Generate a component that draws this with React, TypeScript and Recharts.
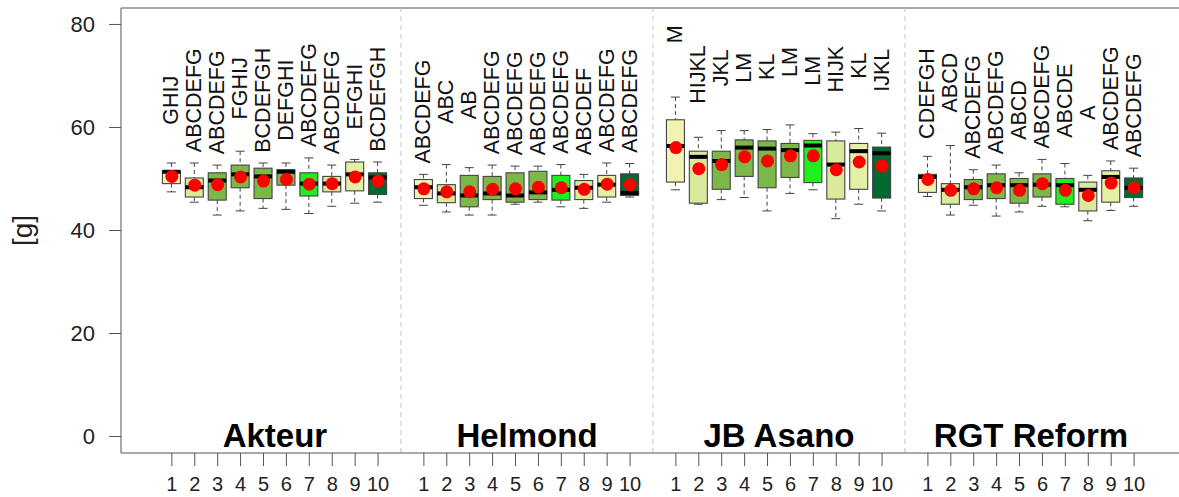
import { Bar, ComposedChart, ReferenceLine, Scatter, XAxis, YAxis } from "recharts";

const GROUPS: string[] = ["Akteur", "Helmond", "JB Asano", "RGT Reform"];
const TICK_LABELS: string[] = ["1", "2", "3", "4", "5", "6", "7", "8", "9", "10"];
const Y_TICKS: number[] = [0, 20, 40, 60, 80];

// box statistics, 10 per group, groups in GROUPS order
const WHISKER_LOW: number[] = [
  47.5, 45.5, 43.0, 43.8, 44.3, 44.1, 43.3, 44.7, 45.3, 45.5,
  44.9, 43.6, 43.0, 43.0, 45.1, 45.5, 44.6, 44.3, 45.5, 46.5,
  47.9, 45.1, 46.0, 46.4, 43.8, 47.2, 47.9, 42.3, 45.1, 43.8,
  46.6, 43.0, 44.9, 42.8, 43.6, 44.7, 44.6, 41.9, 43.9, 44.7,
];
const Q1: number[] = [
  49.1, 46.5, 45.9, 48.3, 46.2, 48.8, 46.7, 47.5, 47.7, 47.0,
  46.2, 45.4, 44.6, 46.0, 45.5, 46.0, 45.9, 46.0, 46.5, 46.8,
  49.4, 45.3, 48.0, 50.5, 48.3, 50.3, 49.3, 46.1, 48.0, 46.3,
  47.4, 45.1, 46.0, 46.2, 45.3, 46.5, 45.1, 43.8, 45.5, 46.4,
];
const MEDIAN: number[] = [
  51.4, 48.4, 49.7, 50.9, 50.5, 51.4, 49.1, 49.1, 50.9, 50.3,
  48.4, 47.2, 46.8, 47.2, 46.8, 47.4, 47.9, 48.3, 48.9, 47.3,
  56.4, 54.3, 53.5, 56.1, 55.9, 55.6, 56.5, 52.8, 55.4, 55.0,
  50.4, 47.9, 48.4, 48.8, 48.8, 48.9, 48.8, 47.9, 50.4, 48.3,
];
const Q3: number[] = [
  51.6, 50.2, 51.2, 52.7, 52.1, 51.8, 51.2, 50.5, 53.3, 51.2,
  49.9, 48.9, 50.7, 50.5, 51.2, 51.5, 50.7, 49.7, 50.7, 51.0,
  61.5, 55.4, 55.4, 57.6, 57.4, 56.9, 57.5, 57.4, 56.9, 56.2,
  50.9, 49.1, 49.9, 51.0, 50.1, 51.0, 50.1, 49.4, 51.6, 50.2,
];
const WHISKER_HIGH: number[] = [
  53.1, 53.1, 52.7, 55.4, 53.1, 53.1, 54.1, 52.7, 53.8, 53.3,
  50.9, 52.8, 52.2, 52.7, 52.5, 52.5, 52.8, 50.9, 53.1, 53.0,
  65.9, 58.1, 59.4, 59.4, 59.6, 60.5, 58.8, 59.1, 59.8, 58.9,
  54.4, 56.5, 51.8, 52.7, 51.2, 53.8, 53.0, 50.7, 53.5, 52.1,
];
const MEAN: number[] = [
  50.5, 48.8, 48.9, 50.4, 49.6, 49.9, 49.0, 49.1, 50.4, 49.6,
  48.1, 47.5, 47.5, 48.0, 48.1, 48.4, 48.3, 48.0, 49.0, 48.9,
  56.1, 52.0, 52.8, 54.3, 53.5, 54.5, 54.5, 51.8, 53.3, 52.5,
  49.9, 47.8, 48.1, 48.3, 47.8, 49.1, 47.8, 46.8, 49.2, 48.3,
];
const LETTERS: string[] = [
  "GHIJ", "ABCDEFG", "ABCDEFG", "FGHIJ", "BCDEFGH", "DEFGHI", "ABCDEFG", "ABCDEFG", "EFGHI", "BCDEFGH",
  "ABCDEFG", "ABC", "AB", "ABCDEFG", "ABCDEFG", "ABCDEFG", "ABCDEFG", "ABCDEF", "ABCDEFG", "ABCDEFG",
  "M", "HIJKL", "JKL", "LM", "KL", "LM", "LM", "HIJK", "KL", "IJKL",
  "CDEFGH", "ABCD", "ABCDEFG", "ABCDEFG", "ABCD", "ABCDEFG", "ABCDE", "A", "ABCDEFG", "ABCDEFG",
];

const BOX_COLORS: string[] = [
  "#F2F3B3", "#DAEA9C", "#7BB847", "#7BB847", "#7BB847",
  "#7BB847", "#1EF01E", "#DAEA9C", "#E6EFA6", "#00692F",
];

const GROUP_STEP = 11; // 10 boxes + one empty slot between groups
const LABEL_GAP = 12.2; // letters centred this far above the upper whisker
const X_DOMAIN: [number, number] = [-1.22, 44.96];
const Y_DOMAIN: [number, number] = [-3.2, 83.2];
const AXIS = "#555";

const rows = GROUPS.flatMap((_g, gi) =>
  TICK_LABELS.map((label, i) => {
    const k = gi * TICK_LABELS.length + i;
    return {
      pos: gi * GROUP_STEP + i + 1,
      label,
      range: [WHISKER_LOW[k], WHISKER_HIGH[k]],
      q1: Q1[k],
      median: MEDIAN[k],
      q3: Q3[k],
      mean: MEAN[k],
      letters: LETTERS[k],
      color: BOX_COLORS[i],
    };
  })
);
const tickPositions = rows.map((r) => r.pos);
const tickText = new Map(rows.map((r) => [r.pos, r.label]));

const BoxShape = (props: any) => {
  const { x, y, width, height, payload } = props;
  const [lo, hi] = payload.range;
  const top = Math.min(y, y + height);
  const bottom = Math.max(y, y + height);
  const span = bottom - top;
  const py = (v: number) => bottom - ((v - lo) / (hi - lo)) * span;
  const cx = x + width / 2;
  const cap = width / 4;
  const ty = py(hi + LABEL_GAP);
  return (
    <g>
      <line x1={cx} x2={cx} y1={py(hi)} y2={py(payload.q3)} stroke="#444" strokeDasharray="4 3" />
      <line x1={cx} x2={cx} y1={py(payload.q1)} y2={py(lo)} stroke="#444" strokeDasharray="4 3" />
      <line x1={cx - cap} x2={cx + cap} y1={py(hi)} y2={py(hi)} stroke="#444" />
      <line x1={cx - cap} x2={cx + cap} y1={py(lo)} y2={py(lo)} stroke="#444" />
      <rect
        x={x}
        y={py(payload.q3)}
        width={width}
        height={py(payload.q1) - py(payload.q3)}
        fill={payload.color}
        stroke="#444"
        strokeWidth={1.1}
      />
      <line x1={x} x2={x + width} y1={py(payload.median)} y2={py(payload.median)} stroke="#000" strokeWidth={4} />
      <text
        x={cx}
        y={ty}
        transform={`rotate(-90 ${cx} ${ty})`}
        textAnchor="middle"
        dominantBaseline="central"
        fontSize={21.5}
        fill="#111"
      >
        {payload.letters}
      </text>
    </g>
  );
};

const MeanDot = (props: any) => <circle cx={props.cx} cy={props.cy} r={6.5} fill="#FF0000" />;

const YLabel = (props: any) => {
  const { x, y, height } = props.viewBox;
  const lx = x + 22;
  const ly = y + height / 2;
  return (
    <text x={lx} y={ly} transform={`rotate(-90 ${lx} ${ly})`} textAnchor="middle" dominantBaseline="central" fontSize={28} fill="#222">
      [g]
    </text>
  );
};

export default function App() {
  return (
    <div style={{ position: "absolute", left: 0, top: 0, fontFamily: "'Liberation Sans', Arial, sans-serif" }}>
      <ComposedChart width={1179} height={497} data={rows} margin={{ top: 8, right: 0, bottom: 0, left: 0 }}>
        <XAxis
          dataKey="pos"
          type="number"
          domain={X_DOMAIN}
          allowDataOverflow
          ticks={tickPositions}
          interval={0}
          tickFormatter={(v: number) => tickText.get(v) ?? ""}
          height={44}
          tickSize={13}
          tickMargin={11}
          stroke={AXIS}
          tick={{ fill: "#222", fontSize: 20 }}
        />
        <YAxis
          type="number"
          domain={Y_DOMAIN}
          allowDataOverflow
          ticks={Y_TICKS}
          interval={0}
          width={121}
          tickSize={12}
          tickMargin={14}
          stroke={AXIS}
          tick={{ fill: "#222", fontSize: 22 }}
          label={{ content: YLabel }}
        />
        <ReferenceLine y={Y_DOMAIN[1]} stroke={AXIS} />
        {GROUPS.slice(1).map((g, gi) => (
          <ReferenceLine key={g} x={(gi + 1) * GROUP_STEP} stroke="#c4c4c4" strokeDasharray="5 4" />
        ))}
        {GROUPS.map((g, gi) => (
          <ReferenceLine
            key={`name-${g}`}
            x={gi * GROUP_STEP + (TICK_LABELS.length + 1) / 2}
            stroke="none"
            label={{ value: g, position: "insideBottom", offset: 6, fontSize: 33, fontWeight: 700, fill: "#000" }}
          />
        ))}
        <Bar dataKey="range" barSize={18} shape={BoxShape} isAnimationActive={false} />
        <Scatter dataKey="mean" shape={MeanDot} isAnimationActive={false} />
      </ComposedChart>
    </div>
  );
}
